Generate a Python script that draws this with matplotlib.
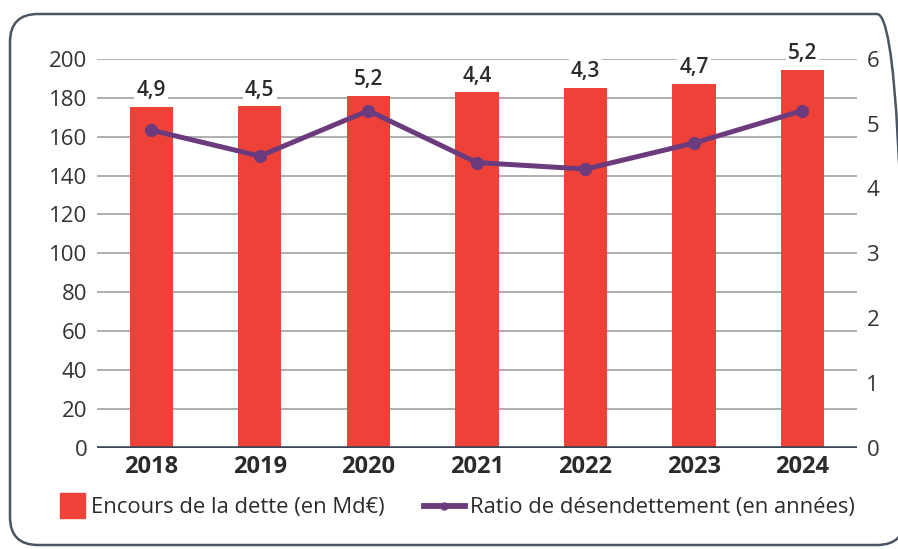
import numpy as np
import matplotlib.pyplot as plt
from matplotlib.patches import FancyBboxPatch, Patch, Rectangle
from matplotlib.lines import Line2D
from matplotlib.legend_handler import HandlerPatch

# ── Data ──────────────────────────────────────────────────────────────────────
years = ["2018", "2019", "2020", "2021", "2022", "2023", "2024"]
debt = [175.3, 175.5, 181.0, 182.8, 185.2, 187.0, 194.3]     # Md€
ratio = [4.9, 4.5, 5.2, 4.4, 4.3, 4.7, 5.2]                   # années
ratio_labels = ["4,9", "4,5", "5,2", "4,4", "4,3", "4,7", "5,2"]

left_ticks = list(range(0, 201, 20))
right_ticks = list(range(0, 7))

RED = "#ee4239"
PURPLE = "#6c3b7e"
GRID = "#a8a8a8"
TEXT = "#2b2b2b"
FONT = "Open Sans"

plt.rcParams["font.family"] = [FONT, "DejaVu Sans"]

fig = plt.figure(figsize=(8.98, 5.49), dpi=100)

# rounded frame around the whole chart
frame = FancyBboxPatch((0.10, 0.04), 8.95, 5.31,
                       boxstyle="round,pad=0,rounding_size=0.28",
                       transform=fig.dpi_scale_trans, fill=False,
                       edgecolor="#4b5563", lw=1.8)
fig.patches.append(frame)

ax = fig.add_axes([0.108, 0.184, 0.846, 0.709])
x = np.arange(len(years))

ax.bar(x, debt, width=0.40, color=RED, zorder=2)
ax.set_xlim(-0.5, len(years) - 0.5)
ax.set_ylim(0, 200)
ax.set_yticks(left_ticks)
ax.grid(axis="y", color=GRID, lw=1.3, zorder=0)
ax.axhline(0, color="#3b4656", lw=2.6, zorder=3)
for s in ax.spines.values():
    s.set_visible(False)

ax.set_xticks(x)
ax.set_xticklabels(years, fontweight="bold", fontsize=17, color=TEXT)
ax.tick_params(axis="x", length=0, pad=5)
ax.tick_params(axis="y", length=0, pad=7, labelsize=16, labelcolor="#333333")

# value labels over the bars (white box cuts the gridlines)
for xi, d, lab in zip(x, debt, ratio_labels):
    ax.annotate(lab, (xi, d), xytext=(0, 4), textcoords="offset points",
                ha="center", va="bottom", fontsize=15, fontweight="semibold",
                color=TEXT, zorder=5,
                bbox=dict(boxstyle="square,pad=0.1", fc="white", ec="none"))

ax2 = ax.twinx()
ax2.set_ylim(0, 6)
ax2.set_yticks(right_ticks)
ax2.plot(x, ratio, color=PURPLE, lw=3.6, marker="o", ms=8.5, zorder=4)
for s in ax2.spines.values():
    s.set_visible(False)
ax2.tick_params(axis="y", length=0, pad=7, labelsize=16, labelcolor="#333333")


# ── Legend ────────────────────────────────────────────────────────────────────
def square_patch(legend, orig_handle, xdescent, ydescent, width, height, fontsize):
    sq = 18.5
    return Rectangle((-xdescent + width - sq, -ydescent + height / 2 - sq / 2),
                     sq, sq)


handles = [Patch(color=RED),
           Line2D([0], [0], color=PURPLE, lw=4.2, marker="o", ms=5)]
labels = ["Encours de la dette (en Md€)", "Ratio de désendettement (en années)"]
fig.legend(handles, labels, loc="lower left", bbox_to_anchor=(0.028, 0.02),
           ncol=2, frameon=False, fontsize=15.8, labelcolor=TEXT,
           handlelength=1.85, handleheight=0.7, handletextpad=0.25,
           columnspacing=1.8,
           handler_map={Patch: HandlerPatch(patch_func=square_patch)})

fig.savefig("out.png", dpi=100)
